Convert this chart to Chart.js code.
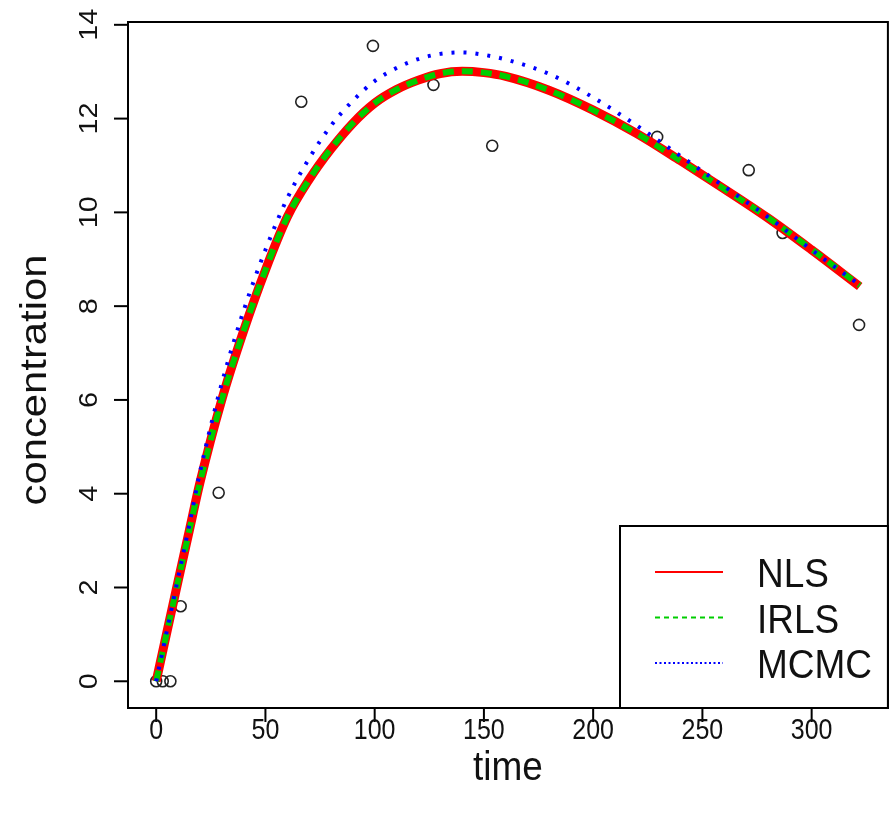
<!DOCTYPE html>
<html>
<head>
<meta charset="utf-8">
<script src="https://cdn.jsdelivr.net/npm/chart.js@4.4.1/dist/chart.umd.min.js"></script>
<style>
  html, body { margin: 0; padding: 0; background: #fff; overflow: hidden; }
  canvas { display: block; }
</style>
</head>
<body>
<canvas id="chart" width="895" height="814"></canvas>
<script>
// observed points
const obsTime = [0, 3, 6.5, 11.2, 28.6, 66.4, 99.2, 126.9, 153.8, 229.3, 271.2, 286.7, 321.7];
const obsConc = [0, 0, 0, 1.6, 4.02, 12.36, 13.55, 12.72, 11.42, 11.61, 10.9, 9.56, 7.6];

// fitted curves
const fitTime = [0, 5, 10, 15, 20, 30, 40, 50, 60, 70, 80, 90, 100, 110, 120, 130, 140, 150, 160, 180, 200, 220, 240, 260, 280, 300, 322];
const nlsConc = [0, 1.07, 2.13, 3.18, 4.23, 6.0, 7.47, 8.77, 9.9, 10.7, 11.35, 11.9, 12.33, 12.62, 12.82, 12.96, 13.01, 12.98, 12.9, 12.6, 12.18, 11.68, 11.1, 10.5, 9.88, 9.2, 8.42];
const irlsConc = [0, 1.07, 2.13, 3.18, 4.23, 6.0, 7.47, 8.77, 9.9, 10.7, 11.36, 11.9, 12.33, 12.62, 12.82, 12.96, 13.01, 12.98, 12.9, 12.6, 12.18, 11.68, 11.1, 10.5, 9.89, 9.21, 8.44];
const mcmcConc = [0, 1.1, 2.2, 3.3, 4.45, 6.35, 7.9, 9.2, 10.3, 11.15, 11.85, 12.38, 12.8, 13.08, 13.27, 13.38, 13.41, 13.36, 13.26, 12.95, 12.45, 11.85, 11.2, 10.55, 9.9, 9.2, 8.45];

const xTicks = [0, 50, 100, 150, 200, 250, 300];
const yTicks = [0, 2, 4, 6, 8, 10, 12, 14];

const legendNames = ['NLS', 'IRLS', 'MCMC'];
const legendColors = ['#ff0000', '#00cd00', '#0000ff'];
const legendDash = [[], [5, 4], [2, 2.5]];

const FONT = '"Liberation Sans", Arial, Helvetica, sans-serif';

const toXY = (xs, ys) => xs.map((x, i) => ({ x, y: ys[i] }));

// text a bit stretched along y, like the picture
const stretchText = (ctx, txt, x, y, rot, sx, sy) => {
    ctx.save();
    ctx.translate(x, y);
    if (rot) ctx.rotate(rot);
    ctx.scale(sx, sy);
    ctx.fillText(txt, 0, 0);
    ctx.restore();
};

// R style axes, box and legend
const rAxes = {
    id: 'rAxes',
    afterDraw(chart) {
        const { ctx, chartArea: a, scales: { x, y } } = chart;
        ctx.save();
        ctx.strokeStyle = '#000';
        ctx.fillStyle = '#111';
        ctx.lineWidth = 2;
        ctx.strokeRect(a.left, a.top, a.right - a.left, a.bottom - a.top);

        // x axis
        ctx.font = '25px ' + FONT;
        ctx.textAlign = 'center';
        ctx.textBaseline = 'alphabetic';
        xTicks.forEach(t => {
            const px = x.getPixelForValue(t);
            ctx.beginPath();
            ctx.moveTo(px, a.bottom);
            ctx.lineTo(px, a.bottom + 14);
            ctx.stroke();
            stretchText(ctx, String(t), px, 739, 0, 1, 1.2);
        });

        // y axis
        yTicks.forEach(t => {
            const py = y.getPixelForValue(t);
            ctx.beginPath();
            ctx.moveTo(a.left, py);
            ctx.lineTo(a.left - 14, py);
            ctx.stroke();
            stretchText(ctx, String(t), 97, py, -Math.PI / 2, 1.15, 1);
        });

        // axis titles
        ctx.font = '37px ' + FONT;
        stretchText(ctx, 'time', (a.left + a.right) / 2, 780, 0, 1, 1.08);
        stretchText(ctx, 'concentration', 46, 380, -Math.PI / 2, 1.13, 1);

        // legend
        const lx = 620, ly = 526;
        ctx.fillStyle = '#fff';
        ctx.fillRect(lx, ly, a.right - lx, a.bottom - ly);
        ctx.strokeStyle = '#000';
        ctx.lineWidth = 2;
        ctx.strokeRect(lx, ly, a.right - lx, a.bottom - ly);
        ctx.font = '37px ' + FONT;
        ctx.textAlign = 'left';
        ctx.textBaseline = 'middle';
        legendNames.forEach((name, i) => {
            const yy = 572 + i * 45.5;
            ctx.strokeStyle = legendColors[i];
            ctx.lineWidth = 2;
            ctx.setLineDash(legendDash[i]);
            ctx.beginPath();
            ctx.moveTo(655, yy);
            ctx.lineTo(723, yy);
            ctx.stroke();
            ctx.setLineDash([]);
            ctx.fillStyle = '#111';
            stretchText(ctx, name, 757, yy + 4, 0, 1, 1.08);
        });
        ctx.restore();
    }
};

new Chart(document.getElementById('chart'), {
    type: 'scatter',
    data: {
        datasets: [
            {
                label: 'MCMC',
                type: 'line',
                data: toXY(fitTime, mcmcConc),
                borderColor: '#0000ff',
                borderWidth: 4,
                borderDash: [3, 9],
                pointRadius: 0,
                cubicInterpolationMode: 'monotone',
                fill: false
            },
            {
                label: 'IRLS',
                type: 'line',
                data: toXY(fitTime, irlsConc),
                borderColor: '#00cd00',
                borderWidth: 6,
                borderDash: [11, 8],
                pointRadius: 0,
                cubicInterpolationMode: 'monotone',
                fill: false
            },
            {
                label: 'NLS',
                type: 'line',
                data: toXY(fitTime, nlsConc),
                borderColor: '#ff0000',
                borderWidth: 9,
                pointRadius: 0,
                cubicInterpolationMode: 'monotone',
                fill: false
            },
            {
                label: 'observed',
                data: toXY(obsTime, obsConc),
                pointStyle: 'circle',
                pointRadius: 5.5,
                pointBorderWidth: 1.6,
                pointBorderColor: '#222',
                pointBackgroundColor: 'rgba(0,0,0,0)'
            }
        ]
    },
    options: {
        responsive: false,
        animation: false,
        layout: { padding: { left: 128, top: 22, right: 0, bottom: 106 } },
        plugins: { legend: { display: false }, tooltip: { enabled: false } },
        scales: {
            x: { type: 'linear', min: -12.9, max: 334.9, display: false },
            y: { type: 'linear', min: -0.57, max: 14.06, display: false }
        }
    },
    plugins: [rAxes]
});
</script>
</body>
</html>
